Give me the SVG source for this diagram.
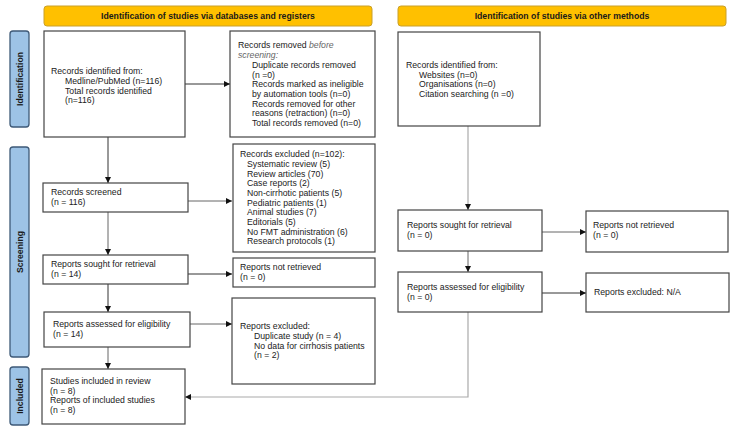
<svg xmlns="http://www.w3.org/2000/svg" width="750" height="436" viewBox="0 0 750 436">
<style>
text{font-family:"Liberation Sans",Arial,sans-serif;font-size:8.7px;fill:#222}
.hd{fill:#FFC000;stroke:#C9A02A;stroke-width:1}
.hdt{font-weight:bold;text-anchor:middle;fill:#1a1a1a}
.side{fill:#9DC3E6;stroke:#3E5A78;stroke-width:1.3}
.sidet{font-weight:bold;text-anchor:middle;fill:#1a1a1a}
.box{fill:#fff;stroke:#444;stroke-width:1.2}
.c{fill:none;stroke:#666;stroke-width:1}
.cd{fill:none;stroke:#333;stroke-width:1}
.cl{fill:none;stroke:#aaa;stroke-width:1.2}
.it{font-style:italic;fill:#666}
</style>
<defs>
<marker id="ah" viewBox="0 0 10 10" refX="10" refY="5" markerWidth="6" markerHeight="6" markerUnits="userSpaceOnUse" orient="auto">
<path d="M0,0 L10,5 L0,10 z" fill="#111"/>
</marker>
</defs>

<g id="header-db"><rect class="hd" x="44" y="6" width="328" height="20" rx="3"/><text class="hdt" x="208" y="19">Identification of studies via databases and registers</text></g>
<g id="header-other"><rect class="hd" x="398" y="6" width="328" height="20" rx="3"/><text class="hdt" x="562" y="19">Identification of studies via other methods</text></g>

<g id="label-identification"><rect class="side" x="10" y="31" width="19" height="96" rx="3"/><text class="sidet" transform="translate(22.5,79) rotate(-90)">Identification</text></g>
<g id="label-screening"><rect class="side" x="10" y="147" width="19" height="210" rx="3"/><text class="sidet" transform="translate(22.5,252) rotate(-90)">Screening</text></g>
<g id="label-included"><rect class="side" x="10" y="367" width="19" height="58" rx="3"/><text class="sidet" transform="translate(22.5,396) rotate(-90)">Included</text></g>

<g id="connectors">
<line class="cd" x1="185" y1="84" x2="230" y2="84" marker-end="url(#ah)"/>
<line class="cd" x1="108" y1="137" x2="108" y2="183" marker-end="url(#ah)"/>
<line class="c" x1="188" y1="201" x2="232" y2="201" marker-end="url(#ah)"/>
<line class="c" x1="108" y1="212" x2="108" y2="255" marker-end="url(#ah)"/>
<line class="cd" x1="188" y1="274" x2="232" y2="274" marker-end="url(#ah)"/>
<line class="cd" x1="108" y1="284" x2="108" y2="312" marker-end="url(#ah)"/>
<line class="c" x1="190" y1="324" x2="232" y2="324" marker-end="url(#ah)"/>
<line class="c" x1="108" y1="347" x2="108" y2="369" marker-end="url(#ah)"/>
<line class="cl" x1="468" y1="126" x2="468" y2="210" marker-end="url(#ah)"/>
<line class="c" x1="542" y1="232" x2="586" y2="232" marker-end="url(#ah)"/>
<line class="c" x1="468" y1="251" x2="468" y2="272" marker-end="url(#ah)"/>
<line class="cd" x1="542" y1="293" x2="586" y2="293" marker-end="url(#ah)"/>
<polyline class="cl" points="468,312 468,397 185,397" marker-end="url(#ah)"/>
</g>

<g id="records-identified">
<rect class="box" x="44" y="31" width="141" height="106"/>
<text x="51" y="74">Records identified from:</text>
<text x="65" y="84">Medline/PubMed (n=116)</text>
<text x="65" y="93.5">Total records identified</text>
<text x="65" y="103">(n=116)</text>
</g>

<g id="records-removed">
<rect class="box" x="230" y="31" width="145" height="106"/>
<text x="238" y="48">Records removed <tspan class="it">before</tspan></text>
<text x="238" y="58" class="it">screening:</text>
<text x="252" y="68">Duplicate records removed</text>
<text x="252" y="77.5">(n =0)</text>
<text x="252" y="87">Records marked as ineligible</text>
<text x="252" y="97">by automation tools (n=0)</text>
<text x="252" y="106.5">Records removed for other</text>
<text x="252" y="116">reasons (retraction) (n=0)</text>
<text x="252" y="126">Total records removed (n=0)</text>
</g>

<g id="other-identified">
<rect class="box" x="398" y="32" width="142" height="94"/>
<text x="406" y="68">Records identified from:</text>
<text x="419" y="77.5">Websites (n=0)</text>
<text x="419" y="87">Organisations (n=0)</text>
<text x="419" y="97">Citation searching (n =0)</text>
</g>

<g id="records-screened">
<rect class="box" x="43" y="183" width="145" height="29"/>
<text x="51" y="195">Records screened</text>
<text x="51" y="205">(n = 116)</text>
</g>

<g id="records-excluded">
<rect class="box" x="233" y="144" width="142" height="108"/>
<text x="240" y="157">Records excluded (n=102):</text>
<text x="247" y="167">Systematic review (5)</text>
<text x="247" y="176.5">Review articles (70)</text>
<text x="247" y="186">Case reports (2)</text>
<text x="247" y="196">Non-cirrhotic patients (5)</text>
<text x="247" y="205.5">Pediatric patients (1)</text>
<text x="247" y="215">Animal studies (7)</text>
<text x="247" y="225">Editorials (5)</text>
<text x="247" y="234.5">No FMT administration (6)</text>
<text x="247" y="244">Research protocols (1)</text>
</g>

<g id="reports-sought">
<rect class="box" x="43" y="255" width="145" height="29"/>
<text x="51" y="267">Reports sought for retrieval</text>
<text x="51" y="277">(n = 14)</text>
</g>

<g id="reports-not-retrieved">
<rect class="box" x="233" y="258" width="142" height="29"/>
<text x="240" y="270">Reports not retrieved</text>
<text x="240" y="280">(n = 0)</text>
</g>

<g id="reports-assessed">
<rect class="box" x="44" y="312" width="146" height="35"/>
<text x="53" y="327">Reports assessed for eligibility</text>
<text x="53" y="337">(n = 14)</text>
</g>

<g id="reports-excluded">
<rect class="box" x="232" y="298" width="143" height="86"/>
<text x="240" y="329">Reports excluded:</text>
<text x="254" y="339">Duplicate study (n = 4)</text>
<text x="254" y="348.5">No data for cirrhosis patients</text>
<text x="254" y="358">(n = 2)</text>
</g>

<g id="studies-included">
<rect class="box" x="42" y="369" width="143" height="55"/>
<text x="50" y="384">Studies included in review</text>
<text x="50" y="393.5">(n = 8)</text>
<text x="50" y="403">Reports of included studies</text>
<text x="50" y="413">(n = 8)</text>
</g>

<g id="other-sought">
<rect class="box" x="398" y="210" width="144" height="41"/>
<text x="407" y="228">Reports sought for retrieval</text>
<text x="407" y="238">(n = 0)</text>
</g>

<g id="other-not-retrieved">
<rect class="box" x="586" y="211" width="142" height="41"/>
<text x="593" y="228">Reports not retrieved</text>
<text x="593" y="238">(n = 0)</text>
</g>

<g id="other-assessed">
<rect class="box" x="398" y="272" width="144" height="40"/>
<text x="407" y="290">Reports assessed for eligibility</text>
<text x="407" y="300">(n = 0)</text>
</g>

<g id="other-excluded">
<rect class="box" x="586" y="273" width="143" height="39"/>
<text x="594" y="295">Reports excluded: N/A</text>
</g>
</svg>
